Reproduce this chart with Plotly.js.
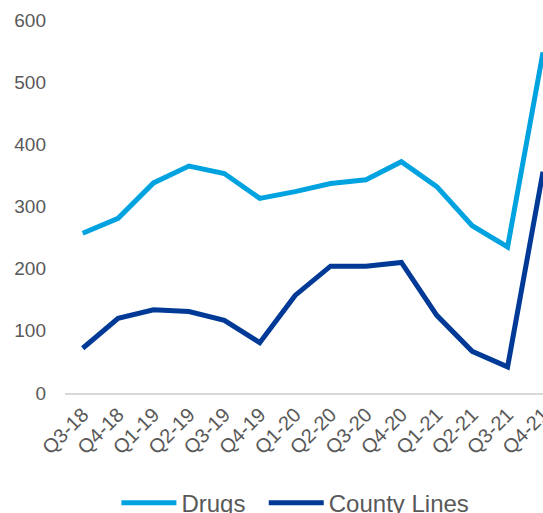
<!DOCTYPE html>
<html>
<head>
<meta charset="utf-8">
<script src="https://cdn.plot.ly/plotly-3.0.1.min.js"></script>
<style>html,body{margin:0;padding:0;background:#fff;}#chart{width:543px;height:513px;}</style>
</head>
<body>
<div id="chart"></div>
<script>
var quarters = ["Q3-18","Q4-18","Q1-19","Q2-19","Q3-19","Q4-19","Q1-20","Q2-20","Q3-20","Q4-20","Q1-21","Q2-21","Q3-21","Q4-21"];
var drugs = [257, 281, 338, 365, 353, 313, 324, 337, 343, 372, 332, 269, 235, 548];
var countyLines = [72, 120, 134, 131, 117, 81, 157, 204, 204, 210, 125, 67, 42, 356];
var yTicks = [0, 100, 200, 300, 400, 500, 600];

var traces = [
  {x: quarters, y: drugs, name: "Drugs\u00a0\u00a0", type: "scatter", mode: "lines",
   line: {color: "#00a3e0", width: 5, shape: "linear"}},
  {x: quarters, y: countyLines, name: "County Lines", type: "scatter", mode: "lines",
   line: {color: "#003a96", width: 5, shape: "linear"}}
];

var layout = {
  width: 543, height: 513,
  margin: {l: 65, r: 0, t: 20, b: 120, autoexpand: false},
  paper_bgcolor: "#fff", plot_bgcolor: "#fff",
  font: {family: "Liberation Sans, Arial, sans-serif", color: "#595959", size: 19},
  showlegend: true,
  legend: {orientation: "h", x: 0.482, xanchor: "center", y: -0.295, yanchor: "middle",
           font: {size: 24, color: "#595959"}, itemwidth: 55, traceorder: "normal"},
  xaxis: {type: "category", range: [-0.5, 13], showgrid: false, zeroline: false, automargin: false,
          showline: true, linecolor: "#d9d9d9", linewidth: 2, ticks: "",
          tickangle: -45, tickfont: {size: 20, color: "#595959"}, fixedrange: true},
  yaxis: {range: [0, 600], tickvals: yTicks, ticktext: yTicks.map(String), showgrid: false, zeroline: false,
          showline: false, ticks: "", ticklabelstandoff: 18, automargin: false,
          tickfont: {size: 19, color: "#595959"}, fixedrange: true}
};

Plotly.newPlot("chart", traces, layout, {staticPlot: true, displayModeBar: false});
</script>
</body>
</html>
